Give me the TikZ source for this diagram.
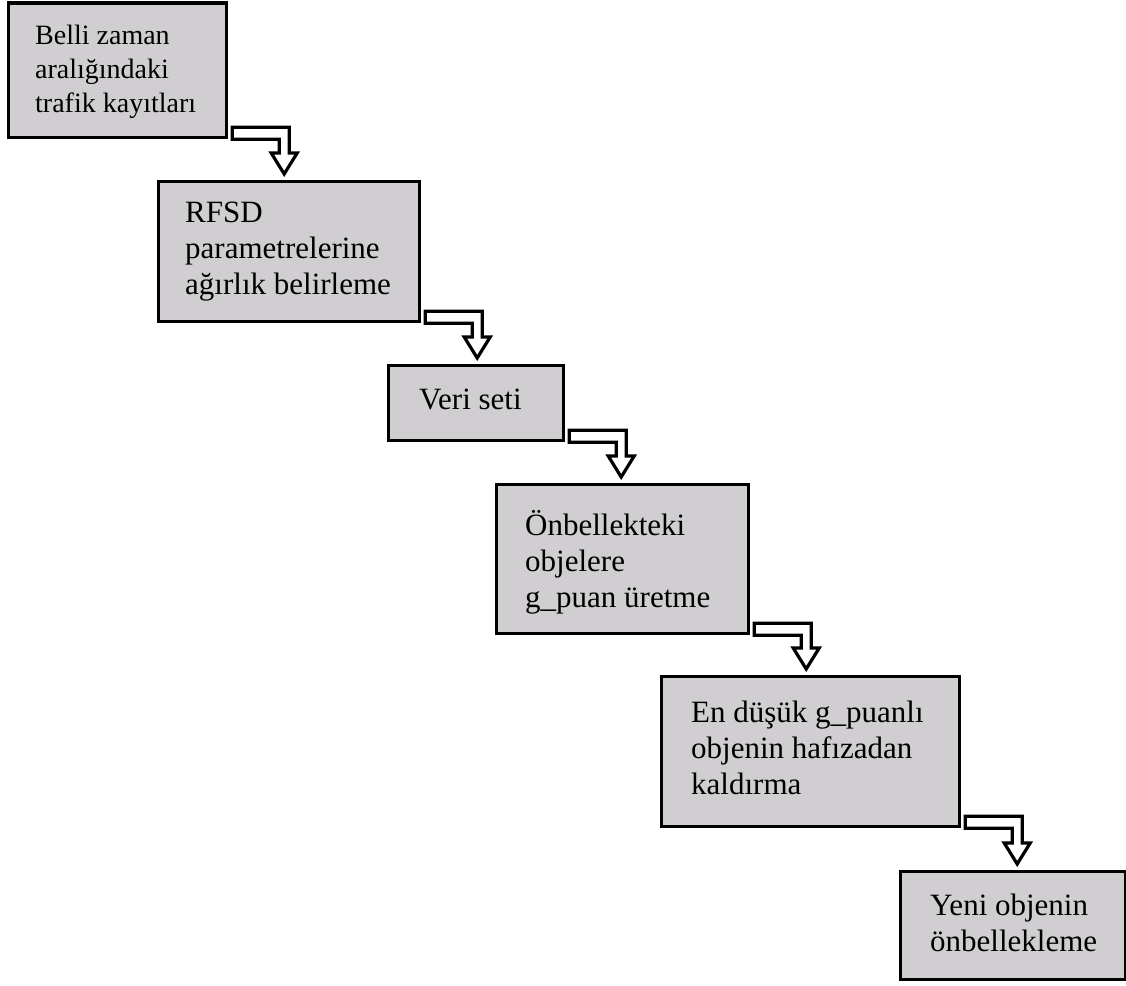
\documentclass[tikz,border=0pt]{standalone}
\usepackage{fontspec}
\setmainfont{Liberation Serif}
\usetikzlibrary{calc}
\definecolor{boxgray}{RGB}{208,206,209}
\newcommand{\flowarrow}[2]{%
  \draw[flowarr] let \p1=(#1.south east), \p2=(#2.north) in
  (\x1+4pt,\y1+12pt) -- (\x1+61pt,\y1+12pt) -- (\x1+61pt,\y2+27pt) --
  (\x1+69pt,\y2+27pt) -- (\x1+56pt,\y2+6pt) -- (\x1+43pt,\y2+27pt) --
  (\x1+51pt,\y2+27pt) -- (\x1+51pt,\y1) -- (\x1+4pt,\y1) -- cycle;}
\begin{document}
\begin{tikzpicture}[x=1pt,y=1pt,
  box/.style={draw=black,fill=boxgray,line width=3.2pt,rectangle,inner sep=0pt,
    anchor=north west},
  txt/.style={anchor=north west,inner sep=0pt,align=left,
    font=\fontsize{31pt}{36pt}\selectfont},
  flowarr/.style={draw=black,fill=white,line width=3.2pt,line join=miter}]
\useasboundingbox (0,0) rectangle (1126,985);
% boxes
\node[box,minimum width=218pt,minimum height=134.5pt] (b1) at (7,983.5) {};
\node[box,minimum width=261pt,minimum height=140pt] (b2) at (157,805) {};
\node[box,minimum width=175pt,minimum height=75pt] (b3) at (387,621) {};
\node[box,minimum width=252pt,minimum height=149pt] (b4) at (495,502) {};
\node[box,minimum width=298pt,minimum height=150pt] (b5) at (660,310) {};
\node[box,minimum width=225pt,minimum height=108pt] (b6) at (899,115) {};
% texts
\node[txt,font=\fontsize{28pt}{34pt}\selectfont,xshift=28pt,yshift=-17.5pt] (t1) at (b1.north west)
  {\rule{0pt}{25pt}Belli zaman\\aralığındaki\\trafik kayıtları};
\node[txt,xshift=28pt,yshift=-17pt] (t2) at (b2.north west)
  {\rule{0pt}{25pt}RFSD\\parametrelerine\\ağırlık belirleme};
\node[txt,xshift=32pt,yshift=-20pt] (t3) at (b3.north west)
  {\rule{0pt}{25pt}Veri seti};
\node[txt,xshift=30pt,yshift=-27pt] (t4) at (b4.north west)
  {\rule{0pt}{25pt}Önbellekteki\\objelere\\g\_puan üretme};
\node[txt,xshift=31pt,yshift=-22pt] (t5) at (b5.north west)
  {\rule{0pt}{25pt}En düşük g\_puanlı\\objenin hafızadan\\kaldırma};
\node[txt,xshift=31pt,yshift=-20pt] (t6) at (b6.north west)
  {\rule{0pt}{25pt}Yeni objenin\\önbellekleme};
% arrows
\flowarrow{b1}{b2}
\flowarrow{b2}{b3}
\flowarrow{b3}{b4}
\flowarrow{b4}{b5}
\flowarrow{b5}{b6}
\end{tikzpicture}
\end{document}
